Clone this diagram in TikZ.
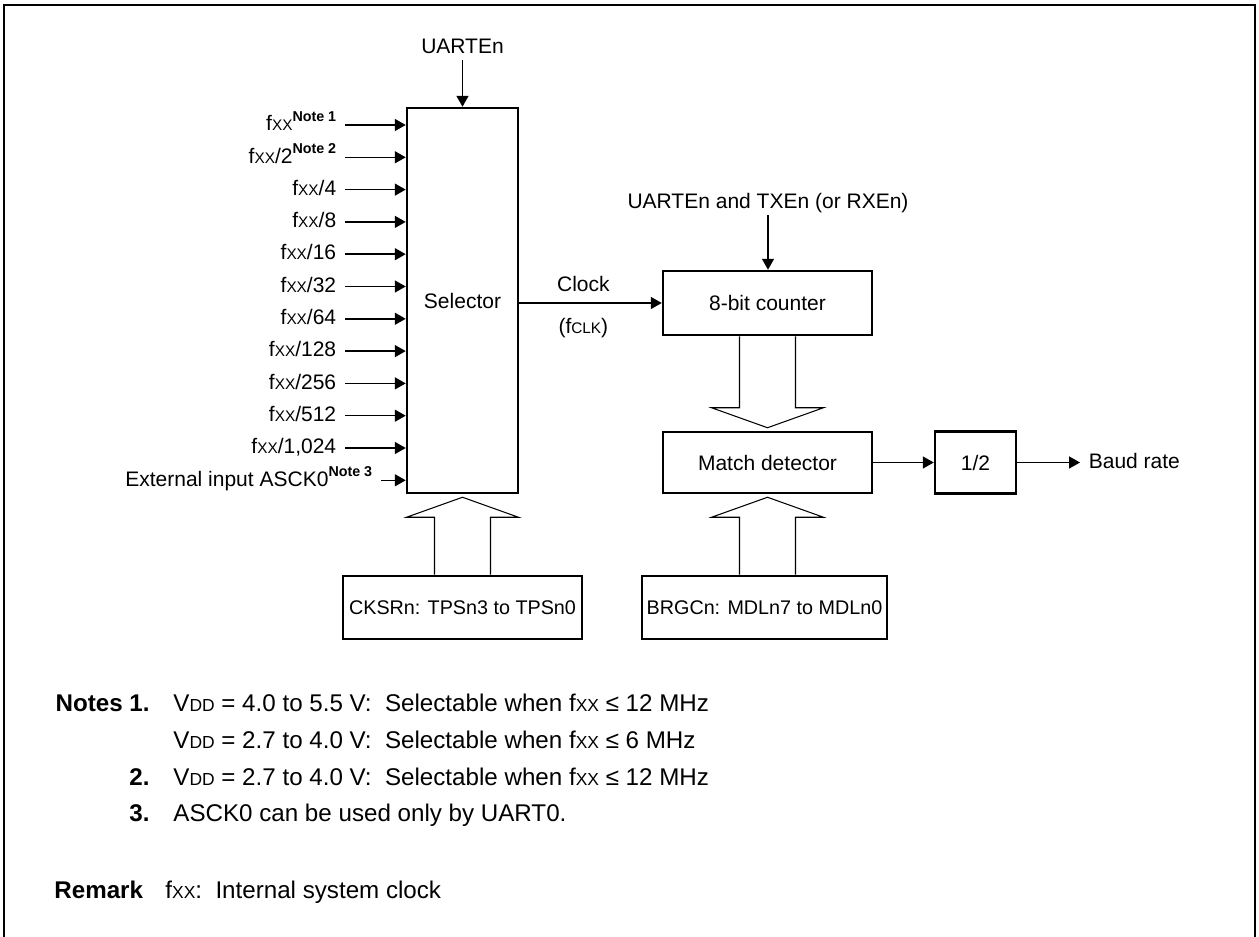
\documentclass[tikz,border=0pt]{standalone}
\usepackage{fontspec}
\setmainfont{Liberation Sans}
\usepackage{tikz}
\usetikzlibrary{arrows.meta,positioning,calc}

\newcommand{\smlsize}{7.3}
\newcommand{\sml}[1]{{\fontsize{\smlsize}{8}\selectfont #1}}
\newcommand{\fxx}{f\sml{XX}}
\newcommand{\vdd}{V\sml{DD}}
\newcommand{\notemark}[1]{\raisebox{0.85ex}{\fontsize{6.8}{7}\selectfont\bfseries Note~#1}}
\def\px{0.476pt}

\tikzset{
  blk/.style={rectangle, draw, line width=1.2pt, inner sep=0pt,
    font=\fontsize{10}{12}\selectfont},
  regblk/.style={blk, font=\fontsize{9.4}{11}\selectfont},
  lbl/.style={inner xsep=4pt, inner ysep=1pt, text height=7.5pt, text depth=2pt,
    font=\fontsize{10}{12}\selectfont},
  txt/.style={inner sep=0pt, font=\fontsize{10}{12}\selectfont},
  note/.style={inner sep=0pt, anchor=base west,
    font={\renewcommand\smlsize{8.3}\fontsize{11.5}{13.5}\selectfont}},
  noteno/.style={inner sep=0pt, anchor=base east,
    font=\fontsize{11.5}{13.5}\selectfont\bfseries},
  edge/.style={-{Triangle[length=5.2pt, width=5.7pt]}, line width=0.7pt},
  hollow/.style={line width=0.5pt, fill=white},
  frame/.style={line width=1.3pt},
}

% tip, tail, 1 = pointing up / -1 = pointing down
\newcommand{\busarrow}[3]{%
  \draw[hollow] ($(#1 |- #2)+(-28,0)$) -- ($(#1)+(-28,#3*23)$)
    -- ($(#1)+(-56,#3*23)$) -- ($(#1)+(0,#3*3)$) -- ($(#1)+(56,#3*23)$)
    -- ($(#1)+(28,#3*23)$) -- ($(#1 |- #2)+(28,0)$);}

\begin{document}
\begin{tikzpicture}[x=0.476pt, y=-0.476pt]

\useasboundingbox (0,0) rectangle (1259,937);
\draw[frame] (4,937) -- (4,5) -- (1255,5) -- (1255,937);

\def\yin{125}    % erste Eingangszeile
\def\dyin{32.3}  % Zeilenabstand der Eingaenge

% ── Selector ───────────────────────────────────────────────────────────────
\node[blk, minimum width=111*\px, minimum height=385*\px] (sel) at (462.5,300.5)
  {Selector};
\node[lbl] (uarte) at (462.5,48) {UARTEn};
\draw[edge] (uarte) -- (uarte |- sel.north);

\foreach \lab [count=\i from 0] in {{\fxx\notemark{1}}, {\fxx/2\notemark{2}},
    \fxx/4, \fxx/8, \fxx/16, \fxx/32, \fxx/64, \fxx/128, \fxx/256, \fxx/512,
    {\fxx/1,024}}{
  \node[lbl, anchor=east] (in\i) at (345, {\yin+\dyin*\i}) {\lab};
  \draw[edge] (in\i.east) -- (in\i.east -| sel.west);
}
\node[lbl, anchor=east] (ext) at (381, {\yin+\dyin*11})
  {External input ASCK0\notemark{3}};
\draw[edge] (ext.east) -- (ext.east -| sel.west);

\node[regblk, minimum width=239*\px, minimum height=63*\px] (ckr) at (462.5,607.5)
  {CKSRn: TPSn3 to TPSn0};
\busarrow{sel.south}{ckr.north}{1}

% ── Zaehler und Vergleich ──────────────────────────────────────────────────
\node[blk, minimum width=209*\px, minimum height=64*\px] (cnt) at (767.5,303)
  {8-bit counter};
\node[lbl] (txen) at (768,203) {UARTEn and TXEn (or RXEn)};
\draw[edge] (txen) -- (txen |- cnt.north);

\draw[edge] (cnt.west -| sel.east) -- (cnt.west)
  node[txt, pos=0.45, above=5pt] (clk) {Clock}
  node[txt, pos=0.45, below=7pt] (fclk) {(f\sml{CLK})};

\node[blk, minimum width=209*\px, minimum height=61*\px] (mat) at (767.5,462.5)
  {Match detector};
\busarrow{mat.north}{cnt.south}{-1}

\node[regblk, minimum width=245*\px, minimum height=63*\px] (brg) at (764.5,607.5)
  {BRGCn: MDLn7 to MDLn0};
\busarrow{mat.south}{brg.north}{1}

\node[blk, minimum width=81*\px, minimum height=62*\px] (half) at (975.5,462.5)
  {1/2};
\draw[edge] (mat.east) -- (half.west);
\node[lbl, anchor=west] (baud) at (1080,462.5) {Baud rate};
\draw[edge] (half.east) -- (baud.west);

% ── Fussnoten ──────────────────────────────────────────────────────────────
\node[noteno] (n1) at (150,711) {Notes 1.};
\node[note] (t1a) at (173,711)
  {\vdd{} = 4.0 to 5.5 V:\ \ Selectable when \fxx{} ≤ 12 MHz};
\node[note] (t1b) at (173,748)
  {\vdd{} = 2.7 to 4.0 V:\ \ Selectable when \fxx{} ≤ 6 MHz};
\node[noteno] (n2) at (150,785) {2.};
\node[note] (t2) at (173,785)
  {\vdd{} = 2.7 to 4.0 V:\ \ Selectable when \fxx{} ≤ 12 MHz};
\node[noteno] (n3) at (150,821) {3.};
\node[note] (t3) at (173,821) {ASCK0 can be used only by UART0.};

\node[noteno, anchor=base west] (rem) at (54,898) {Remark};
\node[note] (trem) at (165,898) {\fxx:\ \ Internal system clock};

\end{tikzpicture}
\end{document}
